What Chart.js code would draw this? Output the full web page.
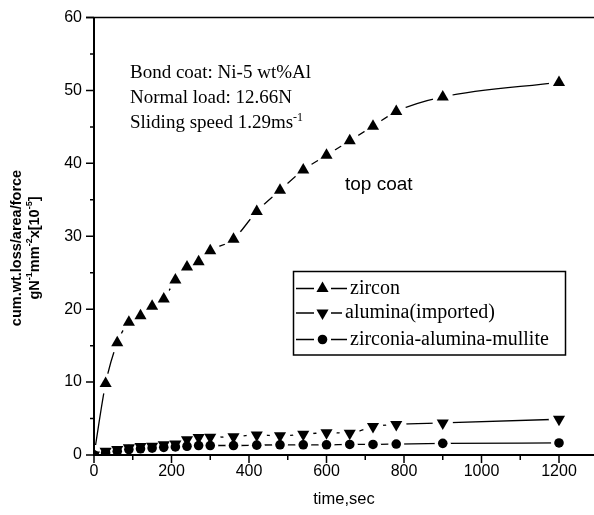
<!DOCTYPE html>
<html><head><meta charset="utf-8">
<script src="https://cdn.jsdelivr.net/npm/chart.js@4.4.1/dist/chart.umd.min.js"></script>
<style>html,body{margin:0;padding:0;background:#fff}</style>
</head><body>
<canvas id="c" width="594" height="515"></canvas>
<script>
'use strict';
// values (time in s, cum. loss x1e-5)
const timeSec=[0,30,60,90,120,150,180,210,240,270,300,360,420,480,540,600,660,720,780,900,1200];
const zircon=[0,9.8,15.4,18.2,19.1,20.4,21.4,24.0,25.8,26.5,28.0,29.6,33.4,36.3,39.1,41.1,43.1,45.1,47.1,49.1,51.1];
const alumina=[0,0.5,0.75,1.0,1.15,1.2,1.4,1.5,2.1,2.4,2.45,2.5,2.75,2.65,2.85,3.05,3.0,3.9,4.2,4.4,4.9];
const zam=[0,0.3,0.5,0.75,0.85,0.95,1.05,1.1,1.2,1.3,1.3,1.3,1.35,1.4,1.4,1.4,1.45,1.45,1.5,1.6,1.65];
const xTicks=[0,200,400,600,800,1000,1200];
const yTicks=[0,10,20,30,40,50,60];
const seriesNames=['zircon','alumina(imported)','zirconia-alumina-mullite'];
const noteLines=['Bond coat: Ni-5 wt%Al','Normal load: 12.66N','Sliding speed 1.29ms'];

const SANS='"Liberation Sans", Arial, sans-serif', SERIF='"Liberation Serif", "Times New Roman", serif';
const pts=v=>timeSec.map((t,i)=>({x:t,y:v[i]}));
const SER=[{v:zircon,style:'triangle',rot:0,r:7},{v:alumina,style:'triangle',rot:180,r:7},{v:zam,style:'circle',rot:0,r:4.8}];

// line, white "gap" under each marker, then the black marker on top (Origin-style gaps)
const ds=[];
SER.forEach(s=>{
  ds.push({data:pts(s.v),order:3,showLine:true,borderColor:'#000',borderWidth:1.3,pointRadius:0,cubicInterpolationMode:'monotone',clip:0});
  ds.push({data:pts(s.v),order:2,showLine:false,pointStyle:'circle',pointRadius:s.r+3.2,pointBackgroundColor:'#fff',pointBorderWidth:0,clip:0});
  ds.push({data:pts(s.v),order:1,showLine:false,pointStyle:s.style,pointRotation:s.rot,pointRadius:s.r,pointBackgroundColor:'#000',pointBorderWidth:0,clip:0});
});

function triangle(ctx,x,y,r,down){
  ctx.beginPath();
  for(let k=0;k<3;k++){ const a=(down?Math.PI:0)+k*2*Math.PI/3; ctx.lineTo(x+Math.sin(a)*r, y-Math.cos(a)*r); }
  ctx.closePath(); ctx.fill();
}
function fnt(size,sup,bold,fam){ return (bold?'bold ':'')+(sup?Math.round(size*0.65):size)+'px '+fam; }
function supText(ctx,parts,x,y,size,bold,fam){
  let cx=x;
  parts.forEach(([t,sup])=>{ ctx.font=fnt(size,sup,bold,fam); ctx.fillText(t,cx,sup?y-size*0.38:y); cx+=ctx.measureText(t).width; });
  return cx-x;
}
function partsWidth(ctx,parts,size,bold,fam){
  let w=0; parts.forEach(([t,sup])=>{ ctx.font=fnt(size,sup,bold,fam); w+=ctx.measureText(t).width; }); return w;
}

const decor={id:'decor',afterDraw(chart){
  const ctx=chart.ctx, a=chart.chartArea, xs=chart.scales.x, ys=chart.scales.y, W=chart.width;
  ctx.save(); ctx.strokeStyle='#000'; ctx.fillStyle='#000';
  // frame / axes (the original is cut off at the right edge)
  ctx.lineWidth=1.5; ctx.beginPath(); ctx.moveTo(a.left-8,a.top); ctx.lineTo(W,a.top); ctx.stroke();
  ctx.lineWidth=2;
  ctx.beginPath(); ctx.moveTo(a.left,a.top); ctx.lineTo(a.left,a.bottom+1); ctx.moveTo(a.left-1,a.bottom); ctx.lineTo(W,a.bottom); ctx.stroke();
  ctx.lineWidth=1.5; ctx.beginPath();
  for(let v=0;v<=60;v+=5){ const y=ys.getPixelForValue(v), L=v%10===0?8:4; ctx.moveTo(a.left,y); ctx.lineTo(a.left-L,y); }
  for(let v=0;v<=1300;v+=100){ const x=xs.getPixelForValue(v); if(x>W) break; const L=v%200===0?8:5; ctx.moveTo(x,a.bottom); ctx.lineTo(x,a.bottom+L); }
  ctx.stroke();
  // annotation
  ctx.textBaseline='alphabetic'; ctx.textAlign='left';
  ctx.font='19px '+SERIF;
  ctx.fillText(noteLines[0],130,78);
  ctx.fillText(noteLines[1],130,103);
  supText(ctx,[[noteLines[2],false],['-1',true]],130,128,19,false,SERIF);
  ctx.font='19px '+SANS; ctx.fillText('top coat',345,190);
  // legend
  ctx.lineWidth=1.5; ctx.strokeRect(293.5,271.5,272,83.5);
  const ly=[288.5,313,339.5], tx=[350,345,350], lx2=[347,342,347];
  for(let i=0;i<3;i++){
    ctx.lineWidth=1.3; ctx.beginPath(); ctx.moveTo(296,ly[i]); ctx.lineTo(lx2[i],ly[i]); ctx.stroke();
    ctx.fillStyle='#fff'; ctx.fillRect(314,ly[i]-8,17,16); ctx.fillStyle='#000';
    if(i===2){ ctx.beginPath(); ctx.arc(322.5,ly[i],4.8,0,Math.PI*2); ctx.fill(); }
    else triangle(ctx,322.5,ly[i],7,i===1);
    ctx.font='20px '+SERIF; ctx.fillText(seriesNames[i],tx[i],ly[i]+5);
  }
  // axis titles
  ctx.font='16.5px '+SANS; ctx.textAlign='center'; ctx.textBaseline='middle';
  ctx.fillText('time,sec',344,499);
  ctx.rotate(-Math.PI/2);
  ctx.textAlign='left';
  const cy=248, fs=14.5;
  const l1=[['cum.wt.loss/area/force',false]], l2=[['gN',false],['-1',true],['mm',false],['-2',true],['x[10',false],['-5',true],[']',false]];
  const w1=partsWidth(ctx,l1,fs,true,SANS), w2=partsWidth(ctx,l2,fs,true,SANS);
  supText(ctx,l1,-cy-w1/2,17,fs,true,SANS);
  supText(ctx,l2,-cy-w2/2,35,fs,true,SANS);
  ctx.restore();
}};

new Chart(document.getElementById('c'),{
  type:'line',
  data:{datasets:ds},
  options:{responsive:false,animation:false,events:[],
    layout:{padding:{top:17.5,left:0,right:0,bottom:0}},
    plugins:{legend:{display:false},tooltip:{enabled:false}},
    scales:{
      x:{type:'linear',min:0,max:1264,grid:{display:false,drawTicks:false},border:{display:false},
        afterBuildTicks:s=>{s.ticks=xTicks.map(v=>({value:v}));},
        ticks:{color:'#000',font:{family:SANS,size:16},padding:7,maxRotation:0,autoSkip:false,callback:v=>String(v)},
        afterFit:s=>{s.height=60; s.paddingLeft=0; s.paddingRight=0;}},
      y:{type:'linear',min:0,max:60,grid:{display:false,drawTicks:false},border:{display:false},
        afterBuildTicks:s=>{s.ticks=yTicks.map(v=>({value:v}));},
        ticks:{color:'#000',font:{family:SANS,size:16},padding:12,callback:v=>String(v)},
        afterFit:s=>{s.width=94; s.paddingTop=0; s.paddingBottom=0;}}
    }},
  plugins:[decor]
});
</script>
</body></html>
